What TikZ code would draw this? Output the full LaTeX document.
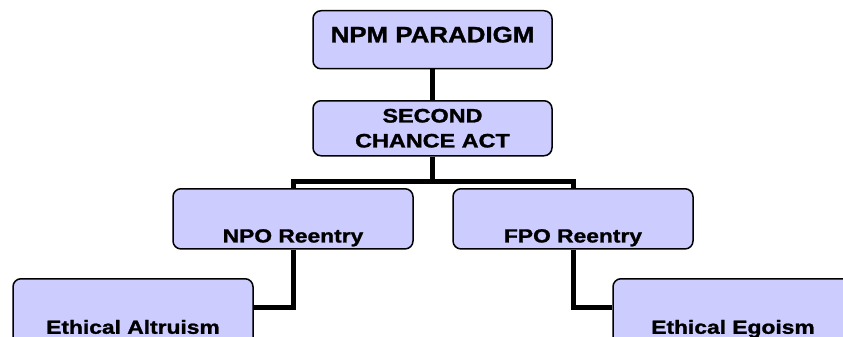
\documentclass[tikz,border=0pt]{standalone}
\usepackage{fontspec}
\setmainfont{Liberation Sans}[BoldFeatures={FakeBold=1.2}]
\usepackage{graphicx}
\definecolor{boxfill}{HTML}{CCCCFF}
\newcommand{\wide}[1]{\scalebox{1.2}[1]{#1}}
\tikzset{
  box/.style={draw, fill=boxfill, line width=1.5pt, rounded corners=8pt,
    minimum width=240pt, inner xsep=0pt, inner ysep=2pt, anchor=north,
    align=center, font=\bfseries\fontsize{19}{25}\selectfont},
  link/.style={line width=5pt}
}
\begin{document}
\begin{tikzpicture}[x=1pt,y=-1pt]
  \useasboundingbox (0,0) rectangle (843,337);
  \clip (0,0) rectangle (843,337);
  % boxes
  \node[box, minimum width=239pt, text height=29.7pt, text depth=24.3pt,
    font=\bfseries\fontsize{22.5}{25}\selectfont] (npm) at (432.5,10) {\scalebox{1.15}[1]{NPM PARADIGM}};
  \node[box, minimum width=239pt, minimum height=55pt,
    font=\bfseries\fontsize{19.5}{25}\selectfont] (sca) at (432.5,100) {\wide{SECOND}\\\wide{CHANCE ACT}};
  \node[box, text height=51.7pt, text depth=4.5pt] (npo) at (293,188) {\wide{NPO Reentry}};
  \node[box, text height=51.7pt, text depth=4.5pt] (fpo) at (573,188) {\wide{FPO Reentry}};
  \node[box, text height=53pt, text depth=12pt] (alt) at (133,278) {\wide{Ethical Altruism}};
  \node[box, text height=53pt, text depth=12pt] (ego) at (733,278) {\wide{Ethical Egoism}};
  % connectors
  \draw[link] (npm.south) -- (sca.north);
  \draw[link] (sca.south) -- ++(0,25) -| (npo.north);
  \draw[link] (sca.south) -- ++(0,25) -| (fpo.north);
  \draw[link] (npo.south) |- ([yshift=-29pt]alt.north east);
  \draw[link] (fpo.south) |- ([yshift=-29pt]ego.north west);
\end{tikzpicture}
\end{document}
